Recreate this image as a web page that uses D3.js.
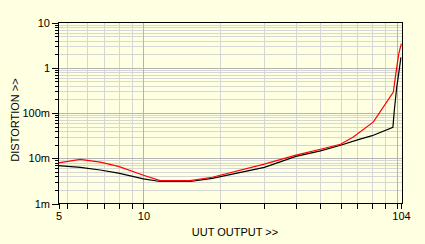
<!DOCTYPE html>
<html>
<head>
<meta charset="utf-8">
<script src="https://cdn.jsdelivr.net/npm/d3@7"></script>
<style>
html,body{margin:0;padding:0;background:#FFFFE1;}
svg{display:block;}
text{font-family:"Liberation Sans",Arial,sans-serif;font-size:11px;fill:#000;}
</style>
</head>
<body>
<svg id="chart" width="425" height="244"></svg>
<script>
// ---- data ----
const blackX = [4.62, 5.63, 6.75, 7.97, 10, 11.64, 15.3, 18.7, 30, 40, 50, 60, 70, 80, 96.6, 97.8, 100, 101.9, 103.9];
const blackY = [0.0069, 0.0063, 0.0055, 0.0047, 0.0035, 0.00306, 0.00306, 0.0036, 0.0063, 0.011, 0.0146, 0.0194, 0.0255, 0.0315, 0.0485, 0.112, 0.37, 0.76, 1.71];
const redX = [4.62, 5.63, 6.75, 7.97, 10, 11.64, 15.3, 18.7, 30, 40, 50, 60, 67.4, 80.9, 97.0, 99.2, 101.9, 104.3];
const redY = [0.0079, 0.0094, 0.0082, 0.0066, 0.0042, 0.0032, 0.0032, 0.0038, 0.0074, 0.0117, 0.0158, 0.0204, 0.0296, 0.0636, 0.29, 0.74, 2.05, 3.43];
const xTickLabels = [{v: 4.62, t: "5"}, {v: 10, t: "10"}, {v: 104, t: "104"}];
const yTickLabels = [{v: 10, t: "10"}, {v: 1, t: "1"}, {v: 0.1, t: "100m"}, {v: 0.01, t: "10m"}, {v: 0.001, t: "1m"}];
const xGrid = [5, 6, 7, 8, 9, 10, 20, 30, 40, 50, 60, 70, 80, 90, 100];
const xTitle = "UUT OUTPUT >>";
const yTitle = "DISTORTION >>";

// ---- layout ----
const L = 58.5, R = 402.5, T = 22.5, B = 203.5;
const svg = d3.select("#chart");
const x = d3.scaleLog().domain([4.62, 105.4]).range([L, R]);
const y = d3.scaleLog().domain([0.001, 10]).range([B, T]);

// y minor values
const yMinor = [];
for (let d = -3; d < 1; d++) for (let k = 2; k <= 9; k++) yMinor.push(k * Math.pow(10, d));
const yMajor = [0.01, 0.1, 1];

const grid = svg.append("g").attr("shape-rendering", "crispEdges");
grid.selectAll(".hmin").data(yMinor).join("line")
  .attr("x1", L).attr("x2", R)
  .attr("y1", d => Math.round(y(d)) + 0.5).attr("y2", d => Math.round(y(d)) + 0.5)
  .attr("stroke", "#D6D6D6");
grid.selectAll(".vmin").data(xGrid.filter(d => d !== 10 && d !== 100)).join("line")
  .attr("y1", T).attr("y2", B)
  .attr("x1", d => Math.round(x(d)) + 0.5).attr("x2", d => Math.round(x(d)) + 0.5)
  .attr("stroke", "#D6D6D6");
grid.selectAll(".hmaj").data(yMajor).join("line")
  .attr("x1", L).attr("x2", R)
  .attr("y1", d => Math.round(y(d)) + 0.5).attr("y2", d => Math.round(y(d)) + 0.5)
  .attr("stroke", "#B4B4B4");
grid.selectAll(".vmaj").data([10, 100]).join("line")
  .attr("y1", T).attr("y2", B)
  .attr("x1", d => Math.round(x(d)) + 0.5).attr("x2", d => Math.round(x(d)) + 0.5)
  .attr("stroke", "#B4B4B4");

// ---- curves ----
const line = d3.line().x(d => x(d[0])).y(d => y(d[1]));
svg.append("path").datum(blackX.map((v, i) => [v, blackY[i]]))
  .attr("d", line).attr("fill", "none").attr("stroke", "#000").attr("stroke-width", 1.2);
svg.append("path").datum(redX.map((v, i) => [v, redY[i]]))
  .attr("d", line).attr("fill", "none").attr("stroke", "#FF0000").attr("stroke-width", 1.2);

// ---- frame ----
const frame = svg.append("g").attr("shape-rendering", "crispEdges");
frame.append("rect").attr("x", L).attr("y", T).attr("width", R - L).attr("height", B - T)
  .attr("fill", "none").attr("stroke", "#000");

// ---- y axis ticks ----
frame.selectAll(".ytm").data(yMinor).join("line")
  .attr("x1", L - 4).attr("x2", L)
  .attr("y1", d => Math.round(y(d)) + 0.5).attr("y2", d => Math.round(y(d)) + 0.5)
  .attr("stroke", "#000");
frame.selectAll(".ytM").data(yTickLabels).join("line")
  .attr("x1", L - 7).attr("x2", L)
  .attr("y1", d => Math.round(y(d.v)) + 0.5).attr("y2", d => Math.round(y(d.v)) + 0.5)
  .attr("stroke", "#000");
svg.selectAll(".ylab").data(yTickLabels).join("text")
  .attr("x", L - 8.5).attr("y", d => y(d.v) + 4)
  .attr("text-anchor", "end").text(d => d.t);

// ---- x axis ticks ----
frame.selectAll(".xt").data(xGrid.concat([104, 4.62])).join("line")
  .attr("x1", d => Math.round(x(d)) + 0.5).attr("x2", d => Math.round(x(d)) + 0.5)
  .attr("y1", B).attr("y2", B + 5)
  .attr("stroke", "#000");
svg.selectAll(".xlab").data(xTickLabels).join("text")
  .attr("x", d => x(d.v) + 0.5).attr("y", 220)
  .attr("text-anchor", "middle").text(d => d.t);

// ---- titles ----
svg.append("text").attr("x", 235).attr("y", 235.5).attr("text-anchor", "middle").text(xTitle);
svg.append("text").attr("transform", "translate(19,120) rotate(-90)")
  .attr("text-anchor", "middle").text(yTitle);
</script>
</body>
</html>
